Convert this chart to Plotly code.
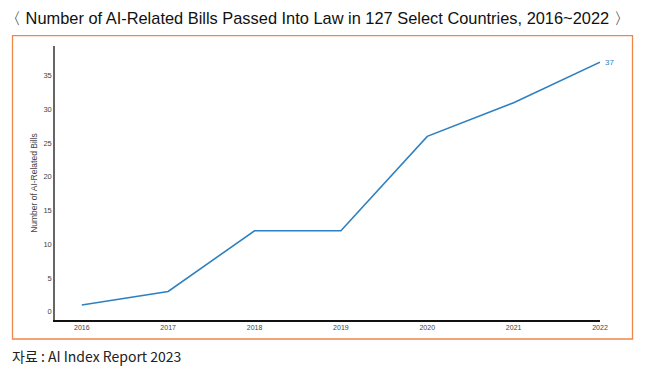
import plotly.graph_objects as go

years = [2016, 2017, 2018, 2019, 2020, 2021, 2022]
bills = [1, 3, 12, 12, 26, 31, 37]
y_ticks = [0, 5, 10, 15, 20, 25, 30, 35]

title_text = "〈 Number of AI-Related Bills Passed Into Law in 127 Select Countries, 2016~2022 〉"
source_text = "자료 : AI Index Report 2023"
y_title = "Number of AI-Related Bills"

W, H = 648, 378
ml, mr, mt, mb = 55, 48, 46, 58
pw, ph = W - ml - mr, H - mt - mb

def px(x):
    return (x - ml) / pw

def py(y):
    return (H - mb - y) / ph

fig = go.Figure()
fig.add_trace(go.Scatter(
    x=years, y=bills, mode="lines",
    line=dict(color="#2f80c0", width=1.6),
    hoverinfo="x+y", showlegend=False,
))
fig.add_annotation(x=years[-1], y=bills[-1], text=str(bills[-1]), showarrow=False,
                   xanchor="left", xshift=3, yanchor="middle",
                   font=dict(size=8, color="#2f80c0", family="Liberation Sans"))

fig.update_layout(
    width=W, height=H,
    margin=dict(l=ml, r=mr, t=mt, b=mb),
    paper_bgcolor="white", plot_bgcolor="white",
    font=dict(family="Liberation Sans", color="#333"),
    xaxis=dict(range=[2015.69, 2022], tickvals=years, ticktext=[str(y) for y in years],
               showgrid=False, zeroline=False, showline=True, linecolor="#111", linewidth=1.5,
               ticks="", tickfont=dict(size=7, color="#444"), fixedrange=True),
    yaxis=dict(range=[-1.23, 39.4], tickvals=y_ticks, showgrid=False, zeroline=False,
               showline=True, linecolor="#666", linewidth=1.5, ticks="",
               tickfont=dict(size=7.5, color="#444"),
               title=dict(text=y_title, font=dict(size=8.5, color="#444"), standoff=4)),
)

fig.add_shape(type="rect", xref="paper", yref="paper",
              x0=px(12.5), x1=px(632.5), y0=py(339), y1=py(35.7),
              line=dict(color="#f0874a", width=1.3), fillcolor="rgba(0,0,0,0)")

fig.add_annotation(xref="paper", yref="paper", x=px(3), y=py(18), text=title_text,
                   showarrow=False, xanchor="left", yanchor="middle",
                   font=dict(size=16.4, color="#111", family="Liberation Sans"))
fig.add_annotation(xref="paper", yref="paper", x=px(10), y=py(356), text=source_text,
                   showarrow=False, xanchor="left", yanchor="middle",
                   font=dict(size=14, color="#222", family="Noto Sans CJK KR"))

fig.write_html("out.html", post_script="document.body.style.margin='0';",
               config={"displayModeBar": False})
